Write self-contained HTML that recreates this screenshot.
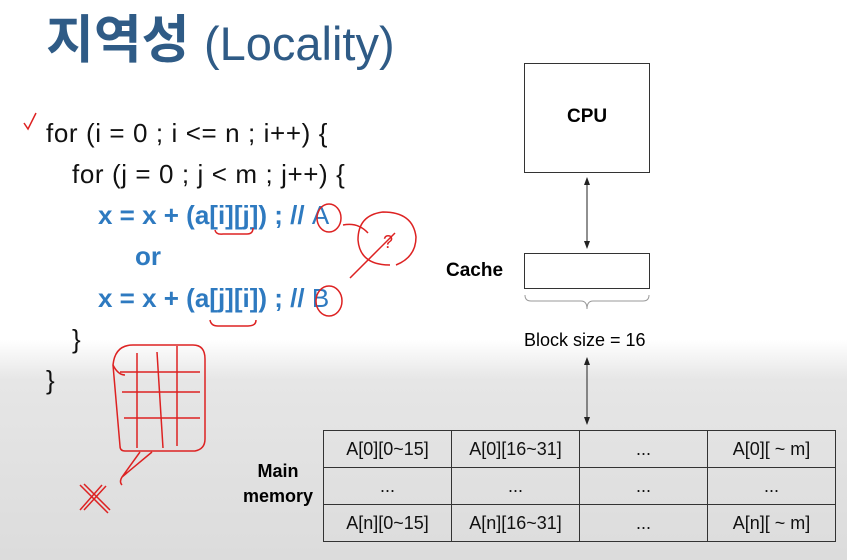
<!DOCTYPE html>
<html><head><meta charset="utf-8"><style>
body{margin:0;width:847px;height:560px;overflow:hidden;background:linear-gradient(#fff 0,#fff 340px,#e6e6e6 380px,#dcdcdc 560px);font-family:"Liberation Sans",sans-serif;position:relative}
.t{position:absolute;white-space:nowrap}
.code{font-size:26px;color:#111}
.blue{color:#2e7ac0;font-weight:bold}
table{position:absolute;left:323px;top:430px;border-collapse:collapse;width:513px;height:110px}
td{border:1.5px solid #333;width:25%;text-align:center;font-size:18px;color:#111;height:36px;padding:0}
</style></head><body>
<div class="t" style="left:46px;top:-2px;font-size:52px;font-weight:bold;color:#2f5b86;font-family:'Liberation Sans','Noto Sans CJK KR',sans-serif">지역성 <span style="font-weight:normal;font-size:47px;position:relative;top:2px">(Locality)</span></div>
<div class="t code" style="left:46px;top:118px;letter-spacing:0.6px">for (i = 0 ; i &lt;= n ; i++) {</div>
<div class="t code" style="left:72px;top:159px;letter-spacing:0.6px">for (j = 0 ; j &lt; m ; j++) {</div>
<div class="t code blue" style="left:98px;top:200px">x = x + (a[i][j]) ; // <span style="font-weight:normal">A</span></div>
<div class="t code blue" style="left:135px;top:241px">or</div>
<div class="t code blue" style="left:98px;top:283px">x = x + (a[j][i]) ; // <span style="font-weight:normal">B</span></div>
<div class="t code" style="left:72px;top:324px">}</div>
<div class="t code" style="left:46px;top:365px">}</div>
<div class="t" style="left:524px;top:63px;width:124px;height:108px;border:1.5px solid #333"></div>
<div class="t" style="left:567px;top:106px;font-weight:bold;font-size:19px">CPU</div>
<div class="t" style="left:524px;top:253px;width:124px;height:34px;border:1.5px solid #333"></div>
<div class="t" style="left:446px;top:260px;font-weight:bold;font-size:19px">Cache</div>
<div class="t" style="left:524px;top:330px;font-size:18px">Block size = 16</div>
<div class="t" style="left:243px;top:459px;font-weight:bold;font-size:18px;text-align:center;line-height:25px">Main<br>memory</div>
<table>
<tr><td>A[0][0~15]</td><td>A[0][16~31]</td><td>...</td><td>A[0][ ~ m]</td></tr>
<tr><td>...</td><td>...</td><td>...</td><td>...</td></tr>
<tr><td>A[n][0~15]</td><td>A[n][16~31]</td><td>...</td><td>A[n][ ~ m]</td></tr>
</table>
<svg width="847" height="560" style="position:absolute;left:0;top:0">
<defs><marker id="a" markerWidth="8" markerHeight="8" refX="7" refY="4" orient="auto-start-reverse"><path d="M0,1 L8,4 L0,7z" fill="#222"/></marker></defs>
<g stroke="#222" stroke-width="1" fill="none">
<line x1="587" y1="178" x2="587" y2="248" marker-start="url(#a)" marker-end="url(#a)"/>
<line x1="587" y1="358" x2="587" y2="424" marker-start="url(#a)" marker-end="url(#a)"/>
<path d="M525,295 q0,6 6,6 h50 q6,0 6,8 q0,-8 6,-8 h50 q6,0 6,-6" stroke="#999"/>
</g>
<g stroke="#d22" stroke-width="1.5" fill="none">
<path d="M24,123 l4,6 l8,-16"/>
<path d="M215,230 q1,5 8,4 h24 q6,0 6,-6"/>
<path d="M210,320 q1,6 8,6 h30 q8,0 8,-6"/>
<ellipse cx="329" cy="218" rx="12" ry="14"/>
<ellipse cx="329" cy="301" rx="13" ry="15"/>
<path d="M343,225 q15,-3 25,8 M350,278 l45,-45"/>
<path d="M390,265 q-30,0 -32,-25 q0,-25 25,-28 q30,0 33,25 q0,20 -20,28"/>
<text x="383" y="248" font-size="18" fill="#d22" stroke="none">?</text>
<path d="M113,365 q2,-20 20,-20 h60 q12,0 12,14 v80 q0,10 -10,12 h-70 q-5,0 -5,-5 z"/>
<path d="M113,365 q5,10 12,10 M120,372 h80 M122,392 h78 M124,418 h76 M137,353 v95 M157,352 q3,50 6,96 M177,346 v100"/>
<path d="M140,452 l-18,25 q-3,5 0,8 M152,452 l-30,25"/>
<path d="M80,485 l28,28 M84,484 l26,26 M80,510 l22,-25 M84,510 l22,-24"/>
</g>
</svg>
</body></html>
